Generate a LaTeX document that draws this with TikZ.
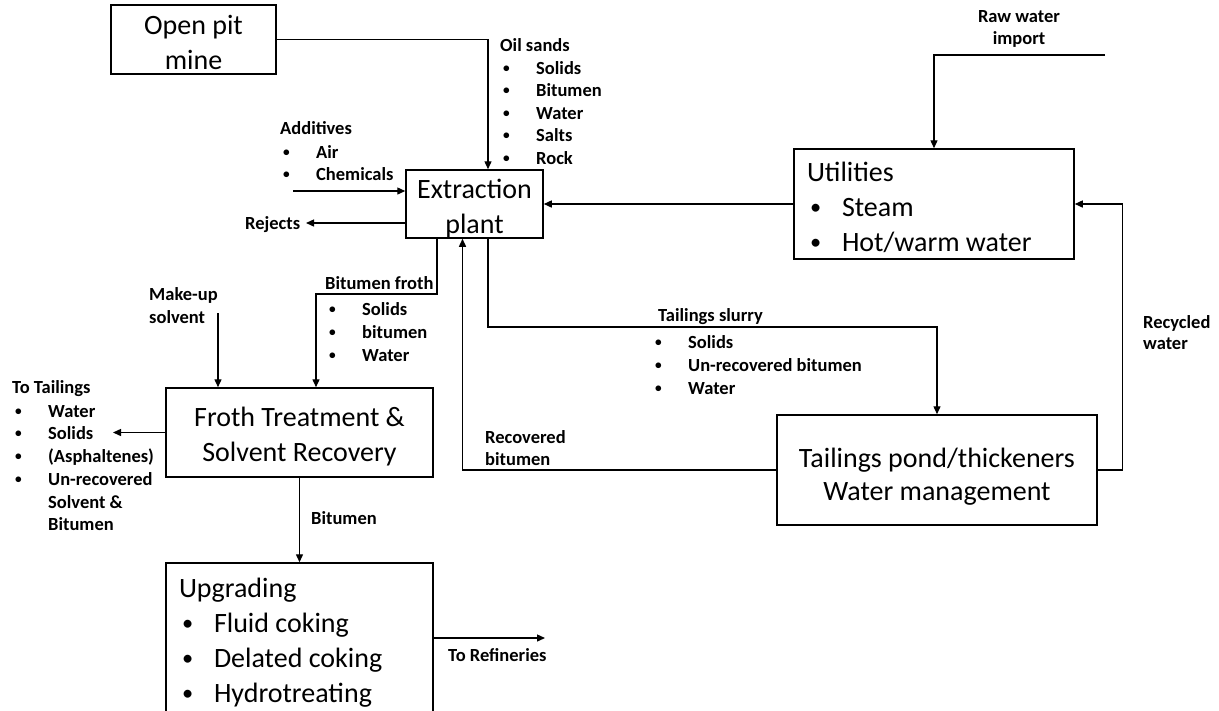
\documentclass[tikz,border=0pt]{standalone}
\usepackage{graphicx}
\usepackage{fontspec}
\setmainfont{Carlito}[BoldFont={Carlito Bold}]
\usetikzlibrary{arrows.meta}
\newcommand\bitem[1]{\makebox[33pt][l]{\raisebox{0.09em}{\scalebox{0.72}{\textbullet}}}#1}
\newcommand\bigitem[1]{\hspace*{3pt}\makebox[32pt][l]{\raisebox{0.07em}{\scalebox{0.8}{\textbullet}}}#1}
\tikzset{
  box/.style={draw, line width=1.5pt, inner ysep=0pt, align=flush center, font=\fontsize{28}{35}\selectfont},
  flow/.style={line width=1.4pt, -{Triangle[length=8pt,width=7pt]}},
  lab/.style={anchor=base west, inner sep=0pt, font=\bfseries\fontsize{18.5}{22}\selectfont},
  labc/.style={anchor=base, inner sep=0pt, font=\bfseries\fontsize{18.5}{22}\selectfont},
}
\begin{document}
\begin{tikzpicture}[x=1pt,y=-1pt]
\useasboundingbox (0,0) rectangle (1219,710);
\clip (0,0) rectangle (1219,710);
\fill[white] (0,0) rectangle (1219,710);

% boxes
\node[box, minimum width=165pt, minimum height=69pt, inner xsep=0pt] (mine) at (193.5,39.5) {\rule{0pt}{26pt}Open pit\\mine};
\node[box, minimum width=137pt, minimum height=68pt, inner xsep=0pt] (ext) at (474.5,204) {\rule{0pt}{28pt}Extraction\\plant};
\node[box, align=flush left, inner xsep=13pt, text width=254pt, minimum height=110pt] (util) at (934,204)
  {\rule{0pt}{26pt}Utilities\\\bigitem{Steam}\\\bigitem{Hot/warm water}};
\node[box, minimum width=267pt, minimum height=89pt, inner xsep=0pt] (froth) at (299.5,432.5) {\rule{0pt}{28pt}Froth Treatment \&\\Solvent Recovery};
\node[box, font=\fontsize{28}{33}\selectfont, minimum width=320pt, minimum height=110pt, inner xsep=0pt] (tail) at (937,470) {\rule{0pt}{33pt}Tailings pond/thickeners\\Water management};
\node[box, align=flush left, inner xsep=13pt, text width=241pt, minimum height=153pt] (upg) at (299.5,639.5)
  {\rule{0pt}{26pt}Upgrading\\\bigitem{Fluid coking}\\\bigitem{Delated coking}\\\bigitem{Hydrotreating}};

% free ends
\coordinate (addin) at (293,191);
\coordinate (rej) at (306,223);
\coordinate (raw) at (1105,55);
\coordinate (ts) at (937,327);
\coordinate (bf) at (316,294);
\coordinate (mu) at (218,313);
\coordinate (tt) at (113,432.5);
\coordinate (ref) at (545,638);

% connectors
\draw[flow] (mine.east) -| ([xshift=13.5pt]ext.north);
\draw[flow] (addin) -- (addin -| ext.west);
\draw[flow] (ext.west |- rej) -- (rej);
\draw[flow] (util.west) -- (util.west -| ext.east);
\draw[flow] (raw) -| (util.north);
\draw[flow] (tail.east) -- ++(25,0) |- (util.east);
\draw[flow] ([xshift=13.5pt]ext.south) |- (ts) -- (tail.north);
\draw[flow] (tail.west) -| ([xshift=-12pt]ext.south);
\draw[flow] ([xshift=-37.5pt]ext.south) |- (bf) -- (bf |- froth.north);
\draw[flow] (mu) -- (mu |- froth.north);
\draw[flow] (froth.west) -- (tt);
\draw[flow] (froth.south) -- (upg.north);
\draw[flow] (upg.east |- ref) -- (ref);

% labels: oil sands
\node[lab] (os0) at (500,51) {Oil sands};
\node[lab] (os1) at (503,74) {\bitem{Solids}};
\node[lab] (os2) at (503,96) {\bitem{Bitumen}};
\node[lab] (os3) at (503,119) {\bitem{Water}};
\node[lab] (os4) at (503,141) {\bitem{Salts}};
\node[lab] (os5) at (503,164) {\bitem{Rock}};
% additives
\node[lab] (ad0) at (280,134) {Additives};
\node[lab] (ad1) at (283,158) {\bitem{Air}};
\node[lab] (ad2) at (283,180) {\bitem{Chemicals}};
\node[lab] (rj) at (245,229) {Rejects};
% raw water
\node[labc] (rw0) at (1019,22) {Raw water};
\node[labc] (rw1) at (1019,44) {import};
% bitumen froth
\node[lab] (bf0) at (325,289) {Bitumen froth};
\node[lab] (bf1) at (329,315) {\bitem{Solids}};
\node[lab] (bf2) at (329,338) {\bitem{bitumen}};
\node[lab] (bf3) at (329,361) {\bitem{Water}};
% make-up solvent
\node[lab] (mu0) at (149,300) {Make-up};
\node[lab] (mu1) at (149,323) {solvent};
% to tailings
\node[lab] (tt0) at (12,393) {To Tailings};
\node[lab] (tt1) at (15,417) {\bitem{Water}};
\node[lab] (tt2) at (15,439) {\bitem{Solids}};
\node[lab] (tt3) at (15,462) {\bitem{(Asphaltenes)}};
\node[lab] (tt4) at (15,485) {\bitem{Un-recovered}};
\node[lab] (tt5) at (48,508) {Solvent \&};
\node[lab] (tt6) at (48,530) {Bitumen};
% bitumen
\node[lab] (bt) at (311,524) {Bitumen};
% tailings slurry
\node[lab] (ts0) at (658,321) {Tailings slurry};
\node[lab] (ts1) at (655,348) {\bitem{Solids}};
\node[lab] (ts2) at (655,371) {\bitem{Un-recovered bitumen}};
\node[lab] (ts3) at (655,394) {\bitem{Water}};
% recovered bitumen
\node[lab] (rb0) at (485,443) {Recovered};
\node[lab] (rb1) at (485,465) {bitumen};
% recycled water
\node[lab] (rc0) at (1143,328) {Recycled};
\node[lab] (rc1) at (1143,349) {water};
% refineries
\node[lab] (rf) at (448,661) {To Refineries};
\end{tikzpicture}
\end{document}
